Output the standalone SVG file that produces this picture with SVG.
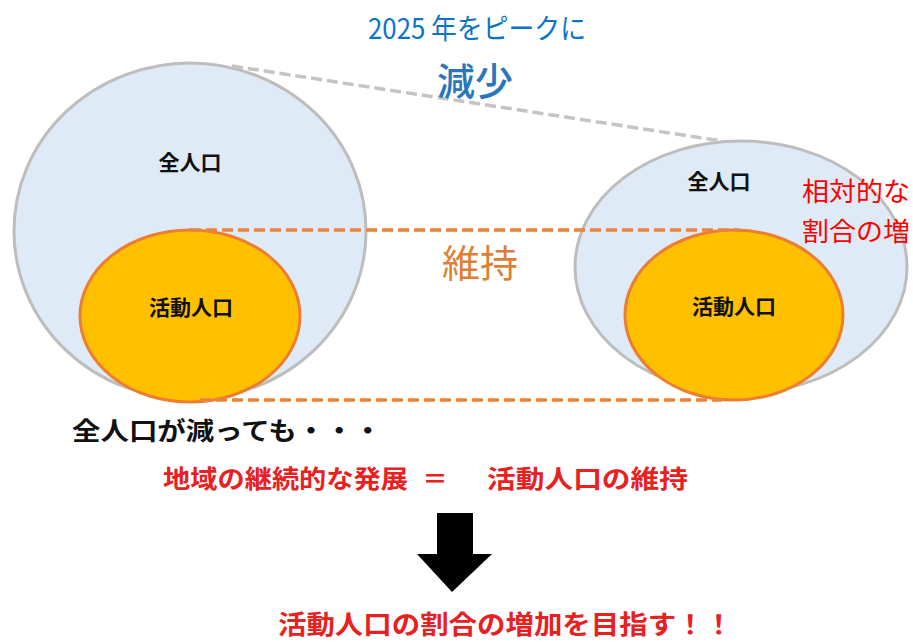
<svg xmlns="http://www.w3.org/2000/svg" width="913" height="642" viewBox="0 0 913 642">
<style>
.t{font-family:"Noto Sans CJK JP","Noto Sans",sans-serif}
.b{font-weight:bold}
.outer{fill:#DEEAF6;stroke:#BDBDBD;stroke-width:3}
.inner{fill:#FFC000;stroke:#ED7D31;stroke-width:3}
.dash-o{stroke:#E8843E;stroke-width:3.5;stroke-dasharray:11 5;fill:none}
.dash-g{stroke:#C4C4C4;stroke-width:3.5;stroke-dasharray:11 5;fill:none}
.lab{font-size:21px;fill:#111;text-anchor:middle}
.red{fill:#E8201F}
</style>
<rect width="913" height="642" fill="#FFFFFF"/>
<g id="total-before">
<ellipse class="outer" cx="190" cy="231" rx="176" ry="168"/>
<text class="t b lab" x="190" y="170">全人口</text>
</g>
<g id="active-before">
<ellipse class="inner" cx="190" cy="316" rx="110" ry="86"/>
<text class="t b lab" x="191" y="315">活動人口</text>
</g>
<g id="total-after">
<ellipse class="outer" cx="741" cy="267" rx="166" ry="126"/>
<text class="t b lab" x="719" y="189">全人口</text>
</g>
<g id="active-after">
<ellipse class="inner" cx="734" cy="315" rx="109" ry="85"/>
<text class="t b lab" x="734" y="314">活動人口</text>
</g>
<g id="connectors">
<line class="dash-g" x1="232" y1="66" x2="722" y2="141"/>
<line class="dash-o" x1="190" y1="230" x2="740" y2="230"/>
<line class="dash-o" x1="200" y1="400" x2="722" y2="400"/>
</g>
<g id="labels">
<text class="t" x="368" y="39" font-size="28" fill="#0B74C8" textLength="218" lengthAdjust="spacingAndGlyphs">2025 年をピークに</text>
<text class="t" x="475" y="95" font-size="38" font-weight="500" fill="#2A76BC" text-anchor="middle">減少</text>
<text class="t" x="480" y="277" font-size="38" fill="#DD8034" text-anchor="middle">維持</text>
<text class="t" x="802" y="201" font-size="26" fill="#FF0000" textLength="108" lengthAdjust="spacingAndGlyphs">相対的な</text>
<text class="t" x="802" y="241" font-size="26" fill="#FF0000" textLength="108" lengthAdjust="spacingAndGlyphs">割合の増</text>
<text class="t b" x="72" y="440" font-size="25" fill="#111" textLength="310" lengthAdjust="spacingAndGlyphs">全人口が減っても・・・</text>
<text class="t b red" x="163" y="488" font-size="25" textLength="245" lengthAdjust="spacingAndGlyphs">地域の継続的な発展</text>
<text class="t b red" x="435" y="488" font-size="25" text-anchor="middle">＝</text>
<text class="t b red" x="487" y="488" font-size="25" textLength="201" lengthAdjust="spacingAndGlyphs">活動人口の維持</text>
<text class="t b red" x="278" y="634" font-size="26" textLength="455" lengthAdjust="spacingAndGlyphs">活動人口の割合の増加を目指す！！</text>
</g>
<g id="arrow">
<polygon points="437,513 473,513 473,554 492,554 452,592 417,554 437,554" fill="#000"/>
</g>
</svg>
